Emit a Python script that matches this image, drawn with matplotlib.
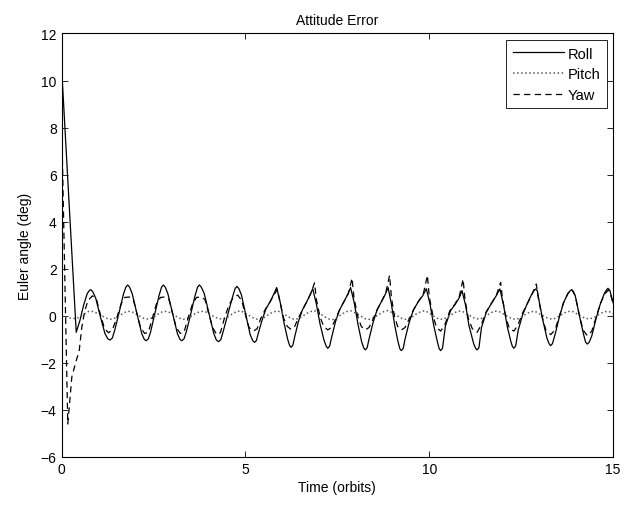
import numpy as np
import matplotlib
matplotlib.use("Agg")
import matplotlib.pyplot as plt

plt.rcParams['font.family'] = ['Liberation Sans', 'DejaVu Sans']

title = "Attitude Error"
xlabel = "Time (orbits)"
ylabel = "Euler angle (deg)"
labels = ["Roll", "Pitch", "Yaw"]
xticks = [0, 5, 10, 15]
yticks = [-6, -4, -2, 0, 2, 4, 6, 8, 10, 12]

roll_t = [0.00, 0.40, 0.50, 0.60, 0.70, 0.76, 0.80, 0.85, 0.93, 1.05, 1.18, 1.26, 1.32, 1.38,
          1.44, 1.56, 1.68, 1.75, 1.80, 1.85, 1.92, 2.05, 2.18, 2.25, 2.30, 2.36,
          2.42, 2.53, 2.65, 2.72, 2.77, 2.82, 2.89, 3.02, 3.15, 3.22, 3.27, 3.33,
          3.39, 3.51, 3.63, 3.70, 3.75, 3.80, 3.88, 4.01, 4.14, 4.21, 4.27, 4.33,
          4.39, 4.52, 4.65, 4.72, 4.77, 4.82, 4.89, 5.01, 5.13, 5.20, 5.25, 5.30,
          5.35, 5.45, 5.56, 5.68, 5.78, 5.85, 5.95, 6.05, 6.15, 6.20, 6.24, 6.29,
          6.34, 6.44, 6.55, 6.67, 6.76, 6.83, 6.93, 7.03, 7.14, 7.20, 7.24, 7.29,
          7.34, 7.45, 7.56, 7.68, 7.78, 7.86, 7.96, 8.06, 8.16, 8.22, 8.26, 8.31,
          8.36, 8.47, 8.58, 8.70, 8.80, 8.88, 8.97, 9.06, 9.15, 9.20, 9.24, 9.29,
          9.34, 9.45, 9.57, 9.70, 9.82, 9.92, 10.02, 10.12, 10.22, 10.27, 10.31, 10.36,
          10.44, 10.58, 10.71, 10.82, 10.89, 10.99, 11.08, 11.21, 11.26, 11.30, 11.35,
          11.42, 11.55, 11.68, 11.82, 11.92, 12.02, 12.12, 12.22, 12.26, 12.30, 12.35,
          12.42, 12.54, 12.66, 12.78, 12.85, 12.89, 12.94, 12.99, 13.09, 13.20, 13.26, 13.30, 13.35,
          13.42, 13.53, 13.65, 13.77, 13.83, 13.87, 13.92, 13.97, 14.07, 14.19, 14.25, 14.30, 14.35,
          14.42, 14.53, 14.65, 14.76, 14.82, 14.86, 14.91, 14.95, 15.00]
roll_v = [10.6, -0.70, -0.20, 0.45, 0.95, 1.08, 1.11, 1.02, 0.75, 0.00, -0.75, -0.98, -1.03, -0.95,
          -0.65, 0.10, 0.90, 1.22, 1.31, 1.22, 0.95, 0.10, -0.75, -1.00, -1.06, -0.98,
          -0.70, 0.05, 0.85, 1.22, 1.31, 1.22, 0.95, 0.10, -0.75, -1.00, -1.06, -0.98,
          -0.70, 0.05, 0.85, 1.22, 1.31, 1.22, 0.95, 0.10, -0.75, -1.03, -1.10, -1.02,
          -0.70, 0.05, 0.80, 1.16, 1.25, 1.16, 0.90, 0.05, -0.80, -1.06, -1.13, -1.05,
          -0.75, -0.20, 0.30, 0.62, 0.95, 1.20, 0.55, -0.30, -1.00, -1.25, -1.34, -1.25,
          -0.90, -0.25, 0.25, 0.60, 0.90, 1.15, 0.50, -0.35, -1.05, -1.30, -1.38, -1.29,
          -0.95, -0.25, 0.25, 0.60, 0.90, 1.20, 0.55, -0.35, -1.10, -1.37, -1.45, -1.36,
          -1.00, -0.30, 0.25, 0.60, 0.90, 1.20, 0.50, -0.40, -1.10, -1.40, -1.48, -1.39,
          -1.00, -0.30, 0.25, 0.60, 0.85, 1.15, 0.50, -0.40, -1.10, -1.40, -1.48, -1.38,
          -0.42, 0.22, 0.50, 0.78, 1.07, 0.43, -0.42, -1.20, -1.38, -1.45, -1.36,
          -0.50, 0.15, 0.50, 0.85, 1.14, 0.45, -0.45, -1.10, -1.30, -1.38, -1.28,
          -0.60, 0.05, 0.50, 0.90, 1.07, 1.14, 1.06, 0.60, -0.20, -0.95, -1.19, -1.27, -1.18,
          -0.80, -0.10, 0.55, 0.95, 1.06, 1.11, 1.03, 0.85, 0.10, -0.75, -1.12, -1.20, -1.12,
          -0.85, -0.15, 0.50, 0.95, 1.10, 1.17, 1.08, 0.85, 0.55]

yaw_t = [0.00, 0.17, 0.28, 0.40, 0.48, 0.55, 0.63, 0.72, 0.84, 0.95, 1.05, 1.17, 1.28,
         1.38, 1.50, 1.62, 1.72, 1.84, 1.95, 2.05, 2.15, 2.26,
         2.36, 2.47, 2.58, 2.69, 2.80, 2.92, 3.02, 3.12, 3.23,
         3.33, 3.44, 3.56, 3.67, 3.78, 3.90, 4.00, 4.11, 4.22,
         4.32, 4.43, 4.55, 4.67, 4.79, 4.90, 5.00, 5.10, 5.22,
         5.32, 5.42, 5.55, 5.68, 5.78, 5.87, 5.94, 6.04, 6.14, 6.24,
         6.34, 6.44, 6.55, 6.67, 6.78, 6.88, 6.93, 7.03, 7.13, 7.24,
         7.34, 7.45, 7.56, 7.68, 7.80, 7.90, 7.95, 8.05, 8.15, 8.26,
         8.36, 8.47, 8.58, 8.70, 8.82, 8.92, 8.97, 9.05, 9.14, 9.24,
         9.34, 9.45, 9.57, 9.70, 9.84, 9.95, 10.00, 10.10, 10.20, 10.31,
         10.42, 10.56, 10.70, 10.82, 10.92, 10.97, 11.06, 11.17, 11.30,
         11.41, 11.54, 11.68, 11.83, 11.94, 11.99, 12.08, 12.18, 12.30,
         12.41, 12.53, 12.66, 12.79, 12.91, 12.96, 13.06, 13.17, 13.30,
         13.42, 13.53, 13.65, 13.77, 13.87, 13.97, 14.07, 14.18, 14.30,
         14.42, 14.53, 14.65, 14.76, 14.87, 14.95, 15.00]
yaw_v = [8.5, -4.6, -2.6, -1.9, -1.5, -0.5, 0.2, 0.65, 0.85, 0.70, 0.10, -0.55, -0.72,
         -0.60, -0.10, 0.50, 0.78, 0.80, 0.70, 0.10, -0.50, -0.75,
         -0.70, -0.10, 0.50, 0.78, 0.80, 0.70, 0.10, -0.50, -0.75,
         -0.70, -0.10, 0.50, 0.78, 0.80, 0.70, 0.10, -0.50, -0.80,
         -0.72, -0.10, 0.45, 0.78, 0.88, 0.65, 0.05, -0.50, -0.65,
         -0.55, -0.10, 0.30, 0.62, 0.90, 1.12, 0.60, -0.10, -0.45, -0.58,
         -0.45, -0.10, 0.25, 0.60, 0.95, 1.40, 0.70, -0.05, -0.45, -0.60,
         -0.50, -0.15, 0.25, 0.60, 0.95, 1.60, 0.80, 0.00, -0.45, -0.60,
         -0.50, -0.15, 0.25, 0.60, 1.00, 1.72, 0.80, 0.00, -0.45, -0.60,
         -0.50, -0.15, 0.25, 0.60, 0.95, 1.72, 0.80, 0.00, -0.50, -0.65,
         -0.40, 0.22, 0.50, 0.85, 1.56, 0.70, -0.10, -0.55, -0.70,
         -0.40, 0.15, 0.50, 0.90, 1.42, 0.75, -0.05, -0.55, -0.65,
         -0.40, 0.10, 0.50, 0.90, 1.35, 0.80, 0.00, -0.60, -0.80,
         -0.60, -0.05, 0.55, 0.95, 1.13, 0.85, 0.10, -0.60, -0.85,
         -0.65, -0.10, 0.50, 0.90, 1.10, 0.80, 0.50]

pitch_v = [0.00, -0.05, -0.10, -0.12, -0.05, 0.08, 0.20, 0.18,
           0.08, -0.02, -0.12, -0.15, -0.07, 0.06, 0.17, 0.20,
           0.10, -0.01, -0.12, -0.14, -0.06, 0.07, 0.18, 0.19,
           0.09, -0.03, -0.13, -0.15, -0.05, 0.08, 0.17, 0.20,
           0.10, -0.02, -0.11, -0.14, -0.07, 0.06, 0.18, 0.21,
           0.11, -0.01, -0.12, -0.16, -0.08, 0.05, 0.16, 0.21,
           0.12, 0.00, -0.12, -0.15, -0.07, 0.06, 0.17, 0.22,
           0.12, -0.01, -0.13, -0.16, -0.06, 0.07, 0.18, 0.21,
           0.11, 0.00, -0.12, -0.15, -0.07, 0.05, 0.17, 0.22,
           0.13, 0.01, -0.11, -0.16, -0.08, 0.06, 0.16, 0.22,
           0.12, -0.02, -0.13, -0.15, -0.06, 0.07, 0.18, 0.21,
           0.10, -0.01, -0.12, -0.14, -0.05, 0.08, 0.19, 0.20,
           0.09, -0.02, -0.13, -0.15, -0.06, 0.07, 0.17, 0.19,
           0.08, -0.03, -0.12, -0.14, -0.05, 0.08, 0.18, 0.20,
           0.10, -0.02, -0.11, -0.13, -0.05, 0.07, 0.17, 0.19,
           0.10]
pitch_t = np.arange(len(pitch_v)) * 0.125

fig = plt.figure(figsize=(6.24, 5.06), dpi=100)
ax = fig.add_axes([0.0986, 0.0949, 0.884, 0.837])

ax.plot(roll_t, roll_v, color='black', lw=0.9, linestyle='-', label=labels[0])
ax.plot(pitch_t, pitch_v, color='0.35', lw=1.1, linestyle=':', label=labels[1])
ax.plot(yaw_t, yaw_v, color='black', lw=0.9, linestyle=(0, (5, 3.5)), label=labels[2])

ax.set_xlim(0, 15)
ax.set_ylim(-6, 12)
ax.set_xticks(xticks)
ax.set_yticks(yticks)
ax.set_yticklabels([str(v).replace('-', '\u2212') for v in yticks])
ax.tick_params(direction='in', top=True, right=True, length=4, width=0.6, labelsize=10)
for s in ax.spines.values():
    s.set_linewidth(0.8)

ax.set_title(title, fontsize=10, pad=7)
ax.set_xlabel(xlabel, fontsize=10, labelpad=3)
ax.set_ylabel(ylabel, fontsize=10, labelpad=6)

leg = ax.legend(loc='upper right', fontsize=10.5, frameon=True, fancybox=False,
                edgecolor='black', framealpha=1, handlelength=3.5,
                borderaxespad=0.45, labelspacing=0.45, borderpad=0.45, handletextpad=0.25)
leg.get_frame().set_linewidth(0.6)

fig.savefig("out.png", dpi=100)
